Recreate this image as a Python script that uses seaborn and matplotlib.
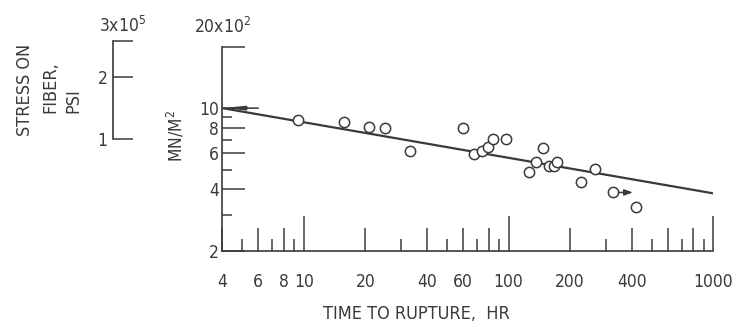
import math
import matplotlib
matplotlib.use('Agg')
import matplotlib.pyplot as plt
from matplotlib import font_manager
from matplotlib.ticker import NullLocator
import seaborn as sns
import pandas as pd

# data (time in hr, stress in 10^2 MN/m^2)
hours = [9.4, 15.8, 20.8, 24.8, 33.1, 59.7, 68.1, 74.2, 79.6, 84.0, 97.1,
         126, 136.5, 147, 158.5, 165.8, 172, 225.5, 264.7, 420]
stress = [8.75, 8.58, 8.11, 8.02, 6.16, 8.02, 5.96, 6.18, 6.43, 7.03, 7.08,
          4.88, 5.46, 6.35, 5.22, 5.22, 5.46, 4.36, 5.01, 3.29]
runout_hours = [323]
runout_stress = [3.86]
runout_to = [405]
fit_hours = [4, 1000]
fit_stress = [10.0, 3.82]

x_major = [10, 100, 1000]
x_medium = [4, 6, 8, 20, 40, 60, 80, 200, 400, 600, 800]
x_medium_labels = ['4', '6', '8', '20', '40', '60', '', '200', '400', '', '']
x_short = [5, 7, 9, 30, 50, 70, 90, 300, 500, 700, 900]
y_major = [2, 4, 6, 8, 10, 20]
y_major_labels = ['2', '4', '6', '8', '10', '']
y_minor = [3, 5, 7, 9]
psi_ticks = [1, 2, 3]
psi_labels = ['1', '2', '']
psi_per_unit = 0.141  # 10^5 psi per 10^2 MN/m^2 (as drawn)

sns.set_style('ticks')
# the scan uses a narrow sans; take the narrowest one available
names = {f.name for f in font_manager.fontManager.ttflist}
condensed = [f for f in font_manager.fontManager.ttflist
             if f.name == 'DejaVu Sans' and 'ondensed' in f.fname]
if 'Liberation Sans Narrow' in names:
    plt.rcParams['font.family'] = ['Liberation Sans Narrow', 'DejaVu Sans']
    fs, fl = 13.5, 13.5
elif condensed:
    plt.rcParams['font.family'] = ['DejaVu Sans']
    plt.rcParams['font.stretch'] = 'condensed'
    fs, fl = 12.5, 13
else:
    plt.rcParams['font.family'] = ['Liberation Sans', 'DejaVu Sans']
    fs, fl = 12, 12
ink = '#3a3a3a'
W, H = 742, 327


def fx(x):
    return x / W


def fy(y):
    return 1 - y / H


fig = plt.figure(figsize=(W / 100, H / 100), dpi=100)
ymin, ymax = 2, 21.5
ax_h = 204 * math.log10(ymax / ymin)
ax = fig.add_axes([fx(222.3), 76.3 / H, 491 / W, ax_h / H])
ax.set_xscale('log')
ax.set_yscale('log')

df = pd.DataFrame({'hours': hours, 'stress': stress})
sns.lineplot(x=fit_hours, y=fit_stress, ax=ax, color=ink, lw=1.6)
sns.scatterplot(data=df, x='hours', y='stress', ax=ax, marker='o', s=55,
                facecolor='white', edgecolor=ink, linewidth=1.1, zorder=3)
sns.scatterplot(x=runout_hours, y=runout_stress, ax=ax, marker='o', s=55,
                facecolor='white', edgecolor=ink, linewidth=1.1, zorder=3)
ax.annotate('', xy=(runout_to[0], runout_stress[0]),
            xytext=(runout_hours[0], runout_stress[0]),
            arrowprops=dict(arrowstyle='-|>,head_length=0.5,head_width=0.18',
                            color=ink, lw=1.1, shrinkA=4, shrinkB=0))
ax.annotate('', xy=(fit_hours[0], fit_stress[0]), xytext=(6.0, fit_stress[0]),
            arrowprops=dict(arrowstyle='-|>,head_length=1.2,head_width=0.12',
                            color=ink, lw=1.1, shrinkA=0, shrinkB=0))

ax.set_xlim(4, 1000)
ax.set_ylim(ymin, ymax)
ax.set_xlabel('')
ax.set_ylabel('')
for s in ['top', 'right']:
    ax.spines[s].set_visible(False)
for s in ['left', 'bottom']:
    ax.spines[s].set_color(ink)
    ax.spines[s].set_linewidth(1.2)
ax.spines['left'].set_bounds(2, 20)

ax.set_xticks(x_major, labels=[str(v) for v in x_major])
ax.set_xticks(x_medium, labels=x_medium_labels, minor=True)
ax.tick_params(axis='x', which='major', bottom=True, direction='in', length=25,
               width=1.1, color=ink, pad=16, labelsize=fs, labelcolor=ink)
ax.tick_params(axis='x', which='minor', bottom=True, direction='in', length=16.5,
               width=1.1, color=ink, pad=16, labelsize=fs, labelcolor=ink)
ax.set_yticks(y_major, labels=y_major_labels)
ax.set_yticks(y_minor, labels=[''] * len(y_minor), minor=True)
ax.tick_params(axis='y', which='major', left=True, direction='in', length=16.5,
               width=1.1, color=ink, pad=2.5, labelsize=fs, labelcolor=ink)
ax.tick_params(axis='y', which='minor', left=True, direction='in', length=7.2,
               width=1.1, color=ink)

# third, shortest class of x ticks
ax2 = ax.twiny()
ax2.set_xscale('log')
ax2.set_xlim(ax.get_xlim())
ax2.set_xticks(x_short, labels=[''] * len(x_short))
ax2.xaxis.set_minor_locator(NullLocator())
ax2.xaxis.set_ticks_position('bottom')
ax2.tick_params(axis='x', which='major', bottom=True, top=False, direction='in',
                length=8.5, width=1.1, color=ink)
for s in ax2.spines.values():
    s.set_visible(False)

psi = fig.add_axes([fx(113.3), 76.3 / H, 30 / W, ax_h / H])
psi.set_yscale('log')
psi.set_ylim(ymin * psi_per_unit, ymax * psi_per_unit)
psi.set_yticks(psi_ticks, labels=psi_labels)
psi.yaxis.set_minor_locator(NullLocator())
psi.set_xticks([])
psi.patch.set_alpha(0)
for s in ['top', 'right', 'bottom']:
    psi.spines[s].set_visible(False)
psi.spines['left'].set_bounds(1, 3)
psi.spines['left'].set_color(ink)
psi.spines['left'].set_linewidth(1.2)
psi.tick_params(axis='y', which='major', left=True, direction='in', length=14.4,
                width=1.1, color=ink, pad=4, labelsize=fs, labelcolor=ink)

tk = dict(color=ink, fontsize=fl)
fig.text(fx(25), fy(136), 'STRESS ON', rotation=90, ha='center', va='bottom', **tk)
fig.text(fx(50.5), fy(113), 'FIBER,', rotation=90, ha='center', va='bottom', **tk)
fig.text(fx(73.5), fy(113), 'PSI', rotation=90, ha='center', va='bottom', **tk)
fig.text(fx(123), fy(32), r'$\mathregular{3x10^{5}}$', ha='center', va='baseline',
         color=ink, fontsize=fs)
fig.text(fx(222.7), fy(33), r'$\mathregular{20x10^{2}}$', ha='center', va='baseline',
         color=ink, fontsize=fs)
fig.text(fx(176), fy(136.5), r'$\mathregular{MN/M^{2}}$', rotation=90,
         ha='center', va='center', color=ink, fontsize=fs)
fig.text(fx(416), fy(314), 'TIME TO RUPTURE,  HR', ha='center', va='center', **tk)

fig.savefig('out.png', dpi=100, facecolor='white')
